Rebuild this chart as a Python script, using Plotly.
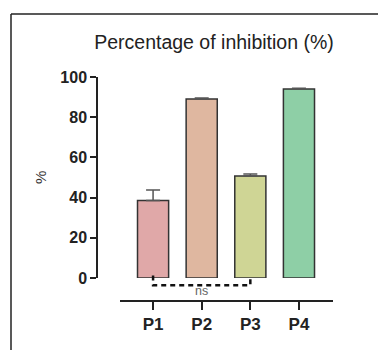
import plotly.graph_objects as go

categories = ["P1", "P2", "P3", "P4"]
values = [38.5, 89.0, 50.8, 94.0]
errors = [5.3, 0.5, 1.0, 0.4]
colors = ["#E0A8A8", "#DFB7A0", "#CFD595", "#8ECFA6"]
y_ticks = [0, 20, 40, 60, 80, 100]
bracket_pair = ["P1", "P3"]
bracket_label = "ns"

W, H = 378, 350
def px_y(y):
    return 1 - y / H
def px_x(x):
    return x / W

FONT = "Liberation Sans, Arial, sans-serif"
x_idx = {c: i for i, c in enumerate(categories)}

fig = go.Figure()
fig.add_trace(go.Bar(
    x=[x_idx[c] for c in categories], y=values,
    marker=dict(color=colors, line=dict(color="#333333", width=1.5)),
    width=0.64,
    error_y=dict(type="data", symmetric=False, array=errors, arrayminus=[0]*len(errors),
                 color="#555555", thickness=1.5, width=7),
    xaxis="x", yaxis="y", showlegend=False,
))

# significance bracket (on a second y axis sharing the same scale)
xa, xb = x_idx[bracket_pair[0]], x_idx[bracket_pair[1]]
fig.add_trace(go.Scatter(
    x=[xa, xa, xb, xb], y=[1.3, -3.6, -3.6, 1.3], mode="lines",
    line=dict(color="#111111", width=2.5, dash="5px,4px"),
    xaxis="x", yaxis="y2", showlegend=False, hoverinfo="skip",
))
fig.add_trace(go.Scatter(
    x=[(xa + xb) / 2], y=[-6.9], mode="text", text=[bracket_label],
    textfont=dict(family=FONT, size=12.5, color="#666666"),
    xaxis="x", yaxis="y2", showlegend=False, hoverinfo="skip",
))

y_top, y_zero = 77, 278
scale = (y_zero - y_top) / 100.0
y2_low = -(H - y_zero) / scale

fig.update_layout(
    template="none",
    width=W, height=H, autosize=False,
    margin=dict(l=0, r=0, t=0, b=0, pad=0),
    paper_bgcolor="white", plot_bgcolor="rgba(0,0,0,0)",
    font=dict(family=FONT, color="#222222"),
    title=dict(text="Percentage of inhibition (%)", x=px_x(214), y=px_y(42),
               xanchor="center", yanchor="middle",
               font=dict(size=19.5, color="#222222")),
    xaxis=dict(
        domain=[px_x(120), px_x(333)], range=[-0.68, 3.7],
        anchor="free", position=px_y(301), automargin=False,
        showline=True, linecolor="#222222", linewidth=1.5,
        showgrid=False, zeroline=False,
        tickmode="array", tickvals=list(range(len(categories))), ticktext=categories,
        ticks="outside", ticklen=8, tickwidth=2, tickcolor="#222222",
        tickfont=dict(size=17, color="#222222", family=FONT, weight="bold"),
    ),
    yaxis=dict(
        domain=[px_y(y_zero), px_y(y_top)], range=[0, 100],
        anchor="free", position=px_x(97), automargin=False,
        showline=True, linecolor="#222222", linewidth=1.5,
        showgrid=False, zeroline=False,
        tickmode="array", tickvals=y_ticks,
        ticks="outside", ticklen=6, tickwidth=1.5, tickcolor="#222222",
        tickfont=dict(size=16, color="#222222", family=FONT, weight="bold"),
    ),
    yaxis2=dict(
        domain=[0, px_y(y_top)], range=[y2_low, 100],
        anchor="free", position=px_x(97), visible=False, automargin=False,
    ),
    annotations=[
        dict(text="%", xref="paper", yref="paper", x=px_x(40), y=px_y(178),
             xanchor="center", yanchor="middle", textangle=-90, showarrow=False,
             font=dict(size=15, color="#333333", family=FONT)),
    ],
    shapes=[
        dict(type="line", xref="paper", yref="paper", x0=px_x(11), x1=px_x(11),
             y0=px_y(14), y1=-0.05, line=dict(color="#222222", width=1.5)),
        dict(type="line", xref="paper", yref="paper", x0=px_x(11), x1=1.05,
             y0=px_y(14), y1=px_y(14), line=dict(color="#222222", width=1.5)),
    ],
)

fig.write_html("out.html", config={"displayModeBar": False},
               post_script="document.body.style.margin='0';document.body.style.overflow='hidden';")
